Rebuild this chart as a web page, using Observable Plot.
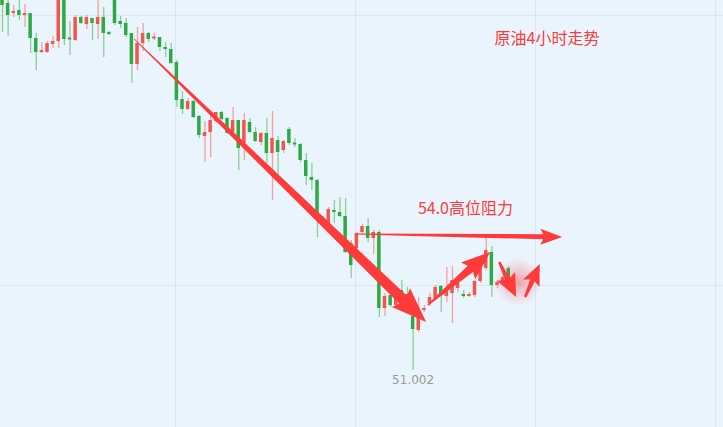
<!DOCTYPE html>
<html>
<head>
<meta charset="utf-8">
<script src="https://cdn.jsdelivr.net/npm/d3@7"></script>
<script src="https://cdn.jsdelivr.net/npm/@observablehq/plot@0.6"></script>
<style>
  html, body { margin: 0; padding: 0; background: #eaf4fc; }
  #chart svg { display: block; }
</style>
</head>
<body>
<div id="chart"></div>
<script>
// ---- data (4h candles, price) ----
const opens = [58.60,58.34,58.14,58.20,58.10,58.14,57.64,57.36,57.36,57.52,
  57.58,58.60,57.64,57.60,58.06,57.92,58.04,57.92,58.06,57.76,
  58.46,57.98,57.94,57.74,57.12,57.54,57.74,57.64,57.66,57.46,
  57.42,57.16,56.42,56.22,56.38,56.08,55.68,55.76,55.98,56.16,
  56.04,55.76,56.00,55.54,55.96,55.76,55.56,55.74,55.34,55.60,
  55.40,55.82,55.54,55.52,55.20,54.86,54.80,54.06,53.94,54.20,
  54.16,54.08,53.54,53.44,53.76,53.88,53.64,53.76,52.24,52.50,
  52.30,52.60,52.52,52.08,51.80,52.20,52.34,52.44,52.68,52.48,
  52.54,52.64,52.52,52.48,52.50,52.78,53.04,53.36,52.70,52.74,53.04];
const closes = [58.30,58.10,58.18,58.10,58.14,57.64,57.36,57.40,57.54,57.58,
  58.64,57.62,57.62,58.06,57.94,58.06,57.94,58.06,57.74,57.72,
  57.94,57.92,57.70,57.12,57.54,57.74,57.62,57.66,57.46,57.42,
  57.14,56.40,56.22,56.38,56.06,55.70,55.76,56.00,56.16,56.02,
  55.74,56.00,55.44,56.00,55.76,55.58,55.74,55.34,55.64,55.36,
  55.58,55.54,55.52,55.20,54.88,54.80,54.00,53.98,54.22,54.16,
  54.08,53.36,53.10,53.74,53.88,53.64,53.76,52.24,52.48,52.30,
  52.48,52.38,52.24,51.82,52.18,52.24,52.46,52.66,52.50,52.64,
  52.80,52.74,52.48,52.52,52.78,53.10,53.40,52.70,52.76,52.86,52.84];
const highs = [58.70,58.46,58.30,58.44,58.32,58.14,57.74,57.56,57.58,57.68,
  58.70,58.68,57.98,58.10,58.08,58.10,58.04,58.46,58.26,57.78,
  58.50,58.08,58.04,57.74,57.86,57.94,57.76,57.74,57.66,57.56,
  57.54,57.20,56.58,56.44,56.40,56.10,55.98,56.10,56.16,56.18,
  56.06,56.26,56.00,56.14,56.04,55.86,55.76,56.04,56.18,55.68,
  55.60,55.86,55.64,55.54,55.34,55.14,54.82,54.08,54.26,54.40,
  54.46,54.44,53.60,53.76,53.92,54.04,53.80,53.80,52.54,52.70,
  52.60,52.80,52.66,52.40,52.46,52.30,52.54,52.70,52.70,53.06,
  53.08,52.78,52.60,52.56,52.80,53.24,53.64,53.48,52.80,52.90,53.08];
const lows = [57.76,57.68,58.06,58.00,57.86,57.34,57.00,57.34,57.34,57.44,
  57.44,57.50,57.30,57.58,57.92,57.82,57.60,57.62,57.26,57.70,
  57.90,57.84,57.66,56.74,57.00,57.38,57.56,57.60,57.38,57.26,
  57.12,56.26,56.12,56.20,56.04,55.64,55.16,55.26,55.94,56.00,
  55.72,55.66,55.00,55.20,55.74,55.56,55.50,55.14,54.40,54.90,
  55.34,55.50,55.46,55.16,54.70,54.60,53.66,53.94,53.90,53.94,
  54.06,53.34,52.84,53.38,53.72,53.56,53.32,52.06,52.08,52.26,
  52.24,52.34,52.14,51.002,51.76,52.16,52.28,52.40,52.16,52.36,
  51.94,52.56,52.44,52.46,52.46,52.74,53.00,52.46,52.64,52.70,52.80];

// grid (candle-index / price positions)
const gridX = [30.76, 62.76, 94.76, 126.76];
const gridY = [58.10, 52.70];

// annotations
const titleText = "原油4小时走势";
const titlePos = [96.8, 57.64];
const resistText = "54.0高位阻力";
const resistPos = [82.3, 54.24];
const lowText = "51.002";
const lowIndex = 73;

// hand-drawn arrows (from index/price to index/price)
const arrowFromX = [23.5, 75.7, 62.8, 88.4, 93.0];
const arrowFromY = [57.62, 52.30, 53.72, 53.16, 52.46];
const arrowToX   = [75.4, 86.8, 99.6, 91.4, 95.6];
const arrowToY   = [51.96, 53.36, 53.66, 52.46, 53.12];
const glowPos = [91.7, 52.76];

// ---- build ----
const candles = opens.map((o, i) => ({i, o, c: closes[i], h: highs[i], l: lows[i]}));
const up = d => d.c > d.o;
const bodyLo = d => { const a = Math.min(d.o, d.c), b = Math.max(d.o, d.c); return b - a < 0.04 ? (a + b) / 2 - 0.02 : a; };
const bodyHi = d => { const a = Math.min(d.o, d.c), b = Math.max(d.o, d.c); return b - a < 0.04 ? (a + b) / 2 + 0.02 : b; };

const RED = "#f2554f", GREEN = "#2daa44";
const RED_W = "#f2a19d", GREEN_W = "#87d191";
const ANNO = "#ff3a3a";
const FONT = "'Noto Sans CJK SC', 'Noto Sans', sans-serif";

const chart = Plot.plot({
  width: 723,
  height: 427,
  margin: 0,
  style: {background: "#eaf4fc", fontFamily: FONT},
  x: {domain: [-0.3556, 128.18], axis: null},
  y: {domain: [49.86, 58.40], axis: null},
  marks: [
    Plot.ruleX(gridX, {stroke: "#dbe6f0", strokeWidth: 1}),
    Plot.ruleY(gridY, {stroke: "#dbe6f0", strokeWidth: 1}),
    Plot.ruleX(candles, {x: "i", y1: "l", y2: "h", stroke: d => up(d) ? RED_W : GREEN_W, strokeWidth: 1.3}),
    Plot.rect(candles, {x1: d => d.i - 0.31, x2: d => d.i + 0.31, y1: bodyLo, y2: bodyHi, fill: d => up(d) ? RED : GREEN}),
    Plot.text([lowText], {x: () => lowIndex, y: () => lows[lowIndex], text: d => d, dy: 10, fill: "#9a9a9a", fontSize: 12, fontFamily: "'DejaVu Sans', sans-serif"}),
    Plot.text([titleText], {x: () => titlePos[0], y: () => titlePos[1], text: d => d, fill: ANNO, fontSize: 16, fontFamily: FONT}),
    Plot.text([resistText], {x: () => resistPos[0], y: () => resistPos[1], text: d => d, fill: ANNO, fontSize: 16, fontFamily: FONT})
  ]
});

// overlay tapered arrows using the plot's own scales
const sx = chart.scale("x"), sy = chart.scale("y");
const X = d3.scaleLinear(sx.domain, sx.range);
const Y = d3.scaleLinear(sy.domain, sy.range);
const svg = d3.select(chart);
const defs = svg.append("defs");
const grad = defs.append("radialGradient").attr("id", "glow");
grad.append("stop").attr("offset", "0%").attr("stop-color", "#ff3a3a").attr("stop-opacity", 0.45);
grad.append("stop").attr("offset", "55%").attr("stop-color", "#ff3a3a").attr("stop-opacity", 0.18);
grad.append("stop").attr("offset", "100%").attr("stop-color", "#ff3a3a").attr("stop-opacity", 0);
svg.append("circle").attr("cx", X(glowPos[0])).attr("cy", Y(glowPos[1])).attr("r", 24).attr("fill", "url(#glow)");

// shape per arrow: tail width, neck width, head length, head half-width
const arrowShape = [[0.8, 11, 32, 13], [1.5, 8, 26, 11], [1, 5, 19, 8], [2.5, 5, 20, 10], [2.5, 5, 18, 9]];
const g = svg.append("g").attr("fill", ANNO);
arrowFromX.forEach((_, k) => {
  const x0 = X(arrowFromX[k]), y0 = Y(arrowFromY[k]);
  const x1 = X(arrowToX[k]), y1 = Y(arrowToY[k]);
  const [w0, w1, hl, hw] = arrowShape[k];
  const dx = x1 - x0, dy = y1 - y0, L = Math.hypot(dx, dy);
  const ux = dx / L, uy = dy / L, nx = -uy, ny = ux;
  const bx = x1 - ux * hl, by = y1 - uy * hl;
  const wx = bx - ux * 3, wy = by - uy * 3;
  const pts = [
    [x0 + nx * w0 / 2, y0 + ny * w0 / 2],
    [bx + nx * w1 / 2, by + ny * w1 / 2],
    [wx + nx * hw, wy + ny * hw],
    [x1, y1],
    [wx - nx * hw, wy - ny * hw],
    [bx - nx * w1 / 2, by - ny * w1 / 2],
    [x0 - nx * w0 / 2, y0 - ny * w0 / 2]
  ];
  g.append("path").attr("d", "M" + pts.map(p => p.join(",")).join("L") + "Z");
});

document.getElementById("chart").appendChild(chart);
</script>
</body>
</html>
